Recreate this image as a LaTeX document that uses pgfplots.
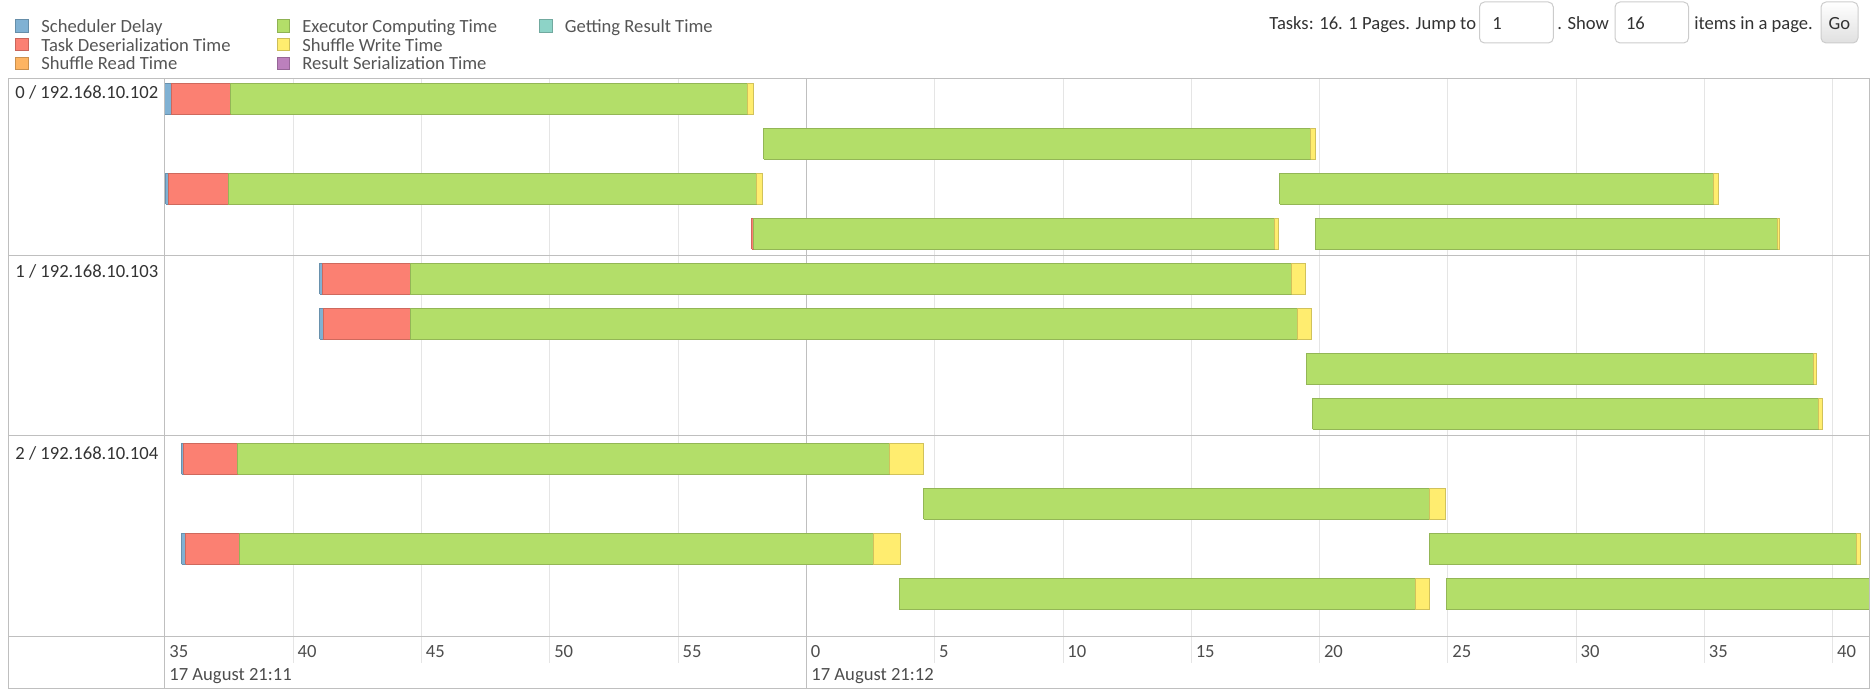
\documentclass[border=0pt]{standalone}
\usepackage{fontspec}
\setmainfont{Carlito}
\usepackage{pgfplots}
\pgfplotsset{compat=1.18}
\definecolor{cdelay}{HTML}{80B1D3}
\definecolor{cdeser}{HTML}{FB8072}
\definecolor{cread}{HTML}{FDB462}
\definecolor{cexec}{HTML}{B3DE69}
\definecolor{cwrite}{HTML}{FFED6F}
\definecolor{cser}{HTML}{BC80BD}
\definecolor{cget}{HTML}{8DD3C7}
\definecolor{bordc}{HTML}{BFBFBF}
\definecolor{gridc}{HTML}{E5E5E5}
\definecolor{tickc}{HTML}{4D4D4D}
\definecolor{legtext}{HTML}{555555}
\definecolor{darktext}{HTML}{333333}
\definecolor{boxc}{HTML}{CCCCCC}
\definecolor{btnbot}{HTML}{E0E0E0}
% one segment of a task bar: colour, row, start (s), end (s)
\newcommand\seg[4]{%
  \pgfmathsetmacro\ya{-#2-0.3444}\pgfmathsetmacro\yb{-#2+0.3444}%
  \edef\tmp{\noexpand\addplot[fill=#1,draw=#1!82!black,line width=0.5pt] coordinates {(#3,\ya) (#4,\ya) (#4,\yb) (#3,\yb) (#3,\ya)};}\tmp}
\newcommand\legitem[4]{%
  \draw[draw=#3!80!black, fill=#3, line width=0.5pt] (#1,#2-6.25) rectangle ++(12.5,12.5);
  \node[anchor=base west, inner sep=0pt, text=legtext] at (#1+25,#2+6.5) {#4};}
\begin{document}
\fontsize{9.3pt}{11pt}\selectfont
\begin{tikzpicture}
\begin{scope}[x=0.5pt,y=-0.5pt,shift={(-82.5pt,344pt)}]
\useasboundingbox (0,0) rectangle (1876,697);
\end{scope}
\begin{axis}[
  at={(0,0)}, anchor=south west, scale only axis,
  width=852pt, height=304.5pt,
  xmin=35, xmax=101.41, ymin=-13.093, ymax=0.44,
  axis line style={draw=none}, ytick=\empty,
  xtick={35,40,45,50,55,60,65,70,75,80,85,90,95,100},
  xticklabels={35,40,45,50,55,0,5,10,15,20,25,30,35,40},
  major tick length=0pt,
  xticklabel style={anchor=base west, xshift=2pt, yshift=15.15pt, inner sep=0pt, text=tickc},
  clip=false,
]
\pgfplotsinvokeforeach{40,45,50,55,65,70,75,80,85,90,95,100}{\draw[gridc, line width=0.5pt] (axis cs:#1,0.44) -- (axis cs:#1,-12.538);}
\draw[bordc, line width=0.5pt] (axis cs:60,0.44) -- (axis cs:60,-13.093);
% executor 0 / 192.168.10.102
\seg{cdelay}{0}{35.00}{35.25}\seg{cdeser}{0}{35.25}{37.56}\seg{cexec}{0}{37.56}{57.71}\seg{cwrite}{0}{57.71}{57.94}
\seg{cexec}{1}{58.34}{79.65}\seg{cwrite}{1}{79.65}{79.83}
\seg{cdelay}{2}{35.03}{35.13}\seg{cdeser}{2}{35.13}{37.46}\seg{cexec}{2}{37.46}{58.07}\seg{cwrite}{2}{58.07}{58.28}
\seg{cexec}{2}{78.45}{95.35}\seg{cwrite}{2}{95.35}{95.55}
\seg{cdeser}{3}{57.87}{57.95}\seg{cexec}{3}{57.95}{78.25}\seg{cwrite}{3}{78.25}{78.40}
\seg{cexec}{3}{79.82}{97.86}\seg{cwrite}{3}{97.86}{97.94}
% executor 1 / 192.168.10.103
\seg{cdelay}{4}{41.04}{41.13}\seg{cdeser}{4}{41.13}{44.56}\seg{cexec}{4}{44.56}{78.91}\seg{cwrite}{4}{78.91}{79.44}
\seg{cdelay}{5}{41.04}{41.16}\seg{cdeser}{5}{41.16}{44.56}\seg{cexec}{5}{44.56}{79.12}\seg{cwrite}{5}{79.12}{79.70}
\seg{cexec}{6}{79.47}{99.26}\seg{cwrite}{6}{99.26}{99.37}
\seg{cexec}{7}{79.73}{99.46}\seg{cwrite}{7}{99.46}{99.58}
% executor 2 / 192.168.10.104
\seg{cdelay}{8}{35.65}{35.73}\seg{cdeser}{8}{35.73}{37.84}\seg{cexec}{8}{37.84}{63.25}\seg{cwrite}{8}{63.25}{64.56}
\seg{cexec}{9}{64.58}{84.28}\seg{cwrite}{9}{84.28}{84.89}
\seg{cdelay}{10}{35.65}{35.81}\seg{cdeser}{10}{35.81}{37.92}\seg{cexec}{10}{37.92}{62.61}\seg{cwrite}{10}{62.61}{63.66}
\seg{cexec}{10}{84.28}{100.93}\seg{cwrite}{10}{100.93}{101.07}
\seg{cexec}{11}{63.62}{83.72}\seg{cwrite}{11}{83.72}{84.28}
\seg{cexec}{11}{84.94}{101.41}
\end{axis}
\begin{scope}[x=0.5pt,y=-0.5pt,shift={(-82.5pt,344pt)}]
% frame
\draw[bordc, line width=0.5pt] (9,79) rectangle (1869,688);
\draw[bordc, line width=0.5pt] (165,79) -- (165,688);
\draw[bordc, line width=0.5pt] (9,256) -- (1869,256);
\draw[bordc, line width=0.5pt] (9,436) -- (1869,436);
\draw[bordc, line width=0.5pt] (9,636.7) -- (1869,636.7);
% group labels
\node[anchor=base west, inner sep=0pt, text=darktext] at (15,98.5) {0 / 192.168.10.102};
\node[anchor=base west, inner sep=0pt, text=darktext] at (15,278) {1 / 192.168.10.103};
\node[anchor=base west, inner sep=0pt, text=darktext] at (15,459.5) {2 / 192.168.10.104};
% date labels
\node[anchor=base west, inner sep=0pt, text=tickc] at (169,680.5) {17 August 21:11};
\node[anchor=base west, inner sep=0pt, text=tickc] at (811,680.5) {17 August 21:12};
% legend
\legitem{16}{26}{cdelay}{Scheduler Delay}
\legitem{16}{44.7}{cdeser}{Task Deserialization Time}
\legitem{16}{63.5}{cread}{Shuffle Read Time}
\legitem{277}{26}{cexec}{Executor Computing Time}
\legitem{277}{44.7}{cwrite}{Shuffle Write Time}
\legitem{277}{63.5}{cser}{Result Serialization Time}
\legitem{539.5}{26}{cget}{Getting Result Time}
% paging controls
\node[anchor=base west, inner sep=0pt, text=darktext] at (1269,30) {Tasks: 16. 1 Pages. Jump to};
\draw[boxc, line width=0.5pt, fill=white, rounded corners=2.5pt] (1479.5,2) rectangle (1553.3,43);
\node[anchor=base west, inner sep=0pt, text=darktext] at (1492,30) {1};
\node[anchor=base west, inner sep=0pt, text=darktext] at (1557,30) {. Show};
\draw[boxc, line width=0.5pt, fill=white, rounded corners=2.5pt] (1615,2) rectangle (1688.6,43);
\node[anchor=base west, inner sep=0pt, text=darktext] at (1625.6,30) {16};
\node[anchor=base west, inner sep=0pt, text=darktext] at (1694,30) {items in a page.};
\path[draw=boxc, line width=0.5pt, top color=white, bottom color=btnbot, rounded corners=2.5pt] (1821,2) rectangle (1858,43);
\node[anchor=base, inner sep=0pt, text=darktext] at (1839.5,30) {Go};
\end{scope}
\end{tikzpicture}
\end{document}
